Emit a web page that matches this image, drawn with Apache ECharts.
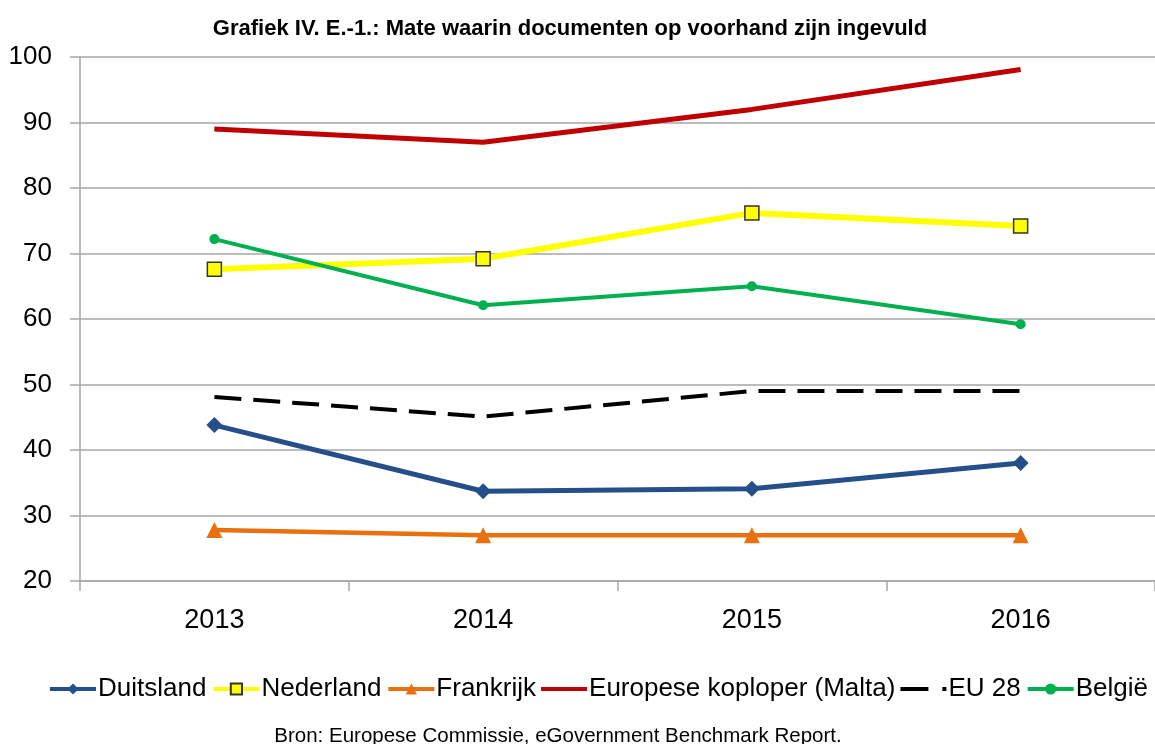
<!DOCTYPE html>
<html>
<head>
<meta charset="utf-8">
<script src="https://cdn.jsdelivr.net/npm/echarts@6/dist/echarts.min.js"></script>
<style>
html, body { margin: 0; padding: 0; background: #fff; }
#chart { width: 1155px; height: 744px; }
</style>
</head>
<body>
<div id="chart"></div>
<script>
// data
var years = ['2013', '2014', '2015', '2016'];
var duitsland = [43.8, 33.7, 34.1, 38];
var nederland = [67.6, 69.2, 76.2, 74.2];
var frankrijk = [27.8, 27, 27, 27];
var malta = [89, 87, 92, 98.1];
var eu28 = [48.1, 45.1, 49, 49];
var belgie = [72.2, 62.1, 65, 59.2];

var chart = echarts.init(document.getElementById('chart'));
var font = 'Liberation Sans, Arial, sans-serif';

option = {
    animation: false,
    title: [{
        text: 'Grafiek IV. E.-1.: Mate waarin documenten op voorhand zijn ingevuld',
        left: 565, top: 13, textAlign: 'center',
        textStyle: { fontFamily: font, fontSize: 22, fontWeight: 'bold', color: '#000' }
    }, {
        text: 'Bron: Europese Commissie, eGovernment Benchmark Report.',
        left: 553, top: 721, textAlign: 'center',
        textStyle: { fontFamily: font, fontSize: 20.5, fontWeight: 'normal', color: '#000' }
    }],
    legend: {
        top: 676, left: 48, width: 1107, padding: 0,
        itemWidth: 46, itemHeight: 14, itemGap: 5,
        lineStyle: { width: 4 },
        textStyle: { fontFamily: font, fontSize: 26, color: '#000', padding: [0, 0, 0, -3] },
        data: [
            'Duitsland',
            'Nederland',
            'Frankrijk',
            { name: 'Europese koploper (Malta)', icon: 'path://M0,0h46v4h-46z', itemStyle: { color: '#C00000' } },
            { name: 'EU 28', icon: 'path://M0,0h28v4h-28zM42,0h4v4h-4z', itemStyle: { color: '#000', opacity: 1 } },
            'België'
        ]
    },
    grid: { left: 80, right: 0, top: 57, bottom: 163 },
    xAxis: {
        type: 'category',
        data: years,
        boundaryGap: true,
        axisLine: { lineStyle: { color: '#a6a6a6', width: 1.5 } },
        axisTick: { show: true, length: 10, lineStyle: { color: '#a6a6a6', width: 1.5 } },
        axisLabel: { fontFamily: font, fontSize: 27, color: '#000', margin: 26 }
    },
    yAxis: {
        type: 'value',
        min: 20, max: 100, interval: 10,
        axisLine: { show: true, lineStyle: { color: '#a6a6a6', width: 1.5 } },
        axisTick: { show: true, length: 10, lineStyle: { color: '#a6a6a6', width: 1.5 } },
        splitLine: { lineStyle: { color: '#a6a6a6', width: 1.5 } },
        axisLabel: { fontFamily: font, fontSize: 26, color: '#000', margin: 28 }
    },
    series: [{
        name: 'Duitsland', type: 'line', data: duitsland,
        symbol: 'diamond', symbolSize: 16,
        lineStyle: { color: '#254F8A', width: 5 },
        itemStyle: { color: '#254F8A' }
    }, {
        name: 'Nederland', type: 'line', data: nederland,
        symbol: 'rect', symbolSize: 14,
        lineStyle: { color: '#FFFF00', width: 6 },
        itemStyle: { color: '#FFFF00', borderColor: '#333', borderWidth: 1.5 }
    }, {
        name: 'Frankrijk', type: 'line', data: frankrijk,
        symbol: 'triangle', symbolSize: 16,
        lineStyle: { color: '#E8700F', width: 4.5 },
        itemStyle: { color: '#E8700F' }
    }, {
        name: 'Europese koploper (Malta)', type: 'line', data: malta,
        symbol: 'none', showSymbol: false,
        lineStyle: { color: '#C00000', width: 5 },
        itemStyle: { color: '#C00000' }
    }, {
        name: 'EU 28', type: 'line', data: eu28,
        symbol: 'none', showSymbol: false,
        lineStyle: { color: '#000', width: 4, type: [27, 12] },
        itemStyle: { color: '#000' }
    }, {
        name: 'België', type: 'line', data: belgie,
        symbol: 'circle', symbolSize: 10,
        lineStyle: { color: '#00B050', width: 4 },
        itemStyle: { color: '#00B050' }
    }]
};

chart.setOption(option);
</script>
</body>
</html>
